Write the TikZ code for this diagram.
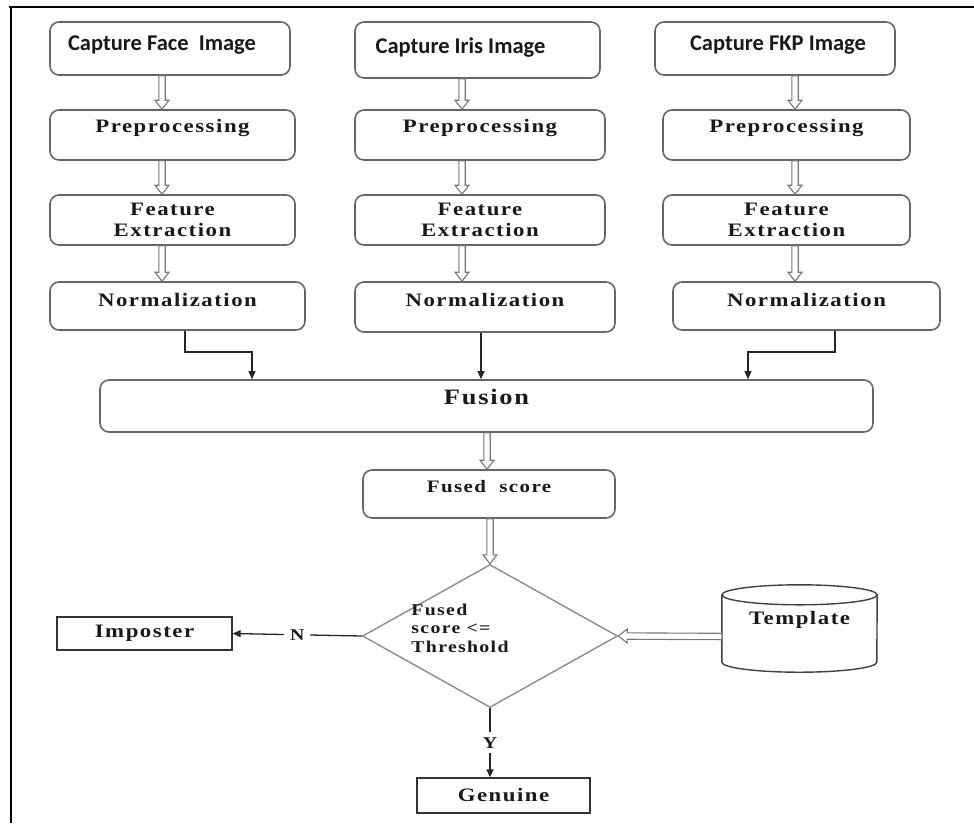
\documentclass[tikz,border=0pt]{standalone}
\usepackage{fontspec}
\setmainfont{Liberation Serif}
\newfontfamily\capfont{Carlito}
\newfontfamily\spfont{Liberation Serif}[LetterSpace=8,FakeStretch=1.2]
\usetikzlibrary{shapes.geometric,arrows.meta,calc}
\definecolor{boxgray}{HTML}{666666}
\definecolor{arrgray}{HTML}{777777}
\definecolor{diagray}{HTML}{8C8C8C}
\tikzset{
  rbox/.style={draw=boxgray, line width=1.6pt, rounded corners=9pt, inner sep=0pt},
  sbox/.style={draw=black!80, line width=1.3pt, inner sep=0pt},
  txt/.style={font={\spfont\bfseries\fontsize{19}{21}\selectfont}, text=black!90, align=center, inner sep=0pt},
  captxt/.style={font={\capfont\bfseries\fontsize{22.5}{26}\selectfont}, text=black!90, inner sep=0pt},
  smalltxt/.style={font={\spfont\bfseries\fontsize{16.5}{18.5}\selectfont}, text=black!90, inner sep=0pt},
  conn/.style={draw=black!85, line width=1.3pt, -{Triangle[length=8pt,width=7pt]}},
  harrow/.style={draw=arrgray, line width=1.1pt, fill=white, to path={
    let \p1=(\tikztostart), \p2=(\tikztotarget),
        \n1={veclen(\x2-\x1,\y2-\y1)}, \n2={atan2(\y2-\y1,\x2-\x1)}, \n3={\n1-9pt} in
    {[shift={(\p1)}, rotate=\n2]
      (0pt,3.2pt) -- (\n3,3.2pt) -- (\n3,7pt) -- (\n1,0pt)
      -- (\n3,-7pt) -- (\n3,-3.2pt) -- (0pt,-3.2pt) -- cycle}
  }}
}
\begin{document}
\begin{tikzpicture}[x=1pt,y=-1pt]
\useasboundingbox (0,0) rectangle (974,823);
% frame lines
\draw[line width=2.6pt] (9,7) -- (974,7);
\draw[line width=2.6pt] (11,6) -- (11,823);

% column 1
\node[rbox, minimum width=240, minimum height=53,
  label={[captxt, xshift=-8pt, yshift=3.5pt]center:Capture Face\ \ Image}] (cap1) at (170,48.5) {};
\node[rbox, minimum width=245, minimum height=50,
  label={[txt, yshift=7pt]center:Preprocessing}] (pre1) at (172.5,135) {};
\node[rbox, minimum width=245, minimum height=50,
  label={[txt, yshift=0pt]center:{Feature\\Extraction}}] (fe1) at (172.5,220) {};
\node[rbox, minimum width=255, minimum height=48,
  label={[txt, yshift=6pt]center:Normalization}] (nor1) at (177.5,306) {};

% column 2
\node[rbox, minimum width=245, minimum height=56,
  label={[captxt, xshift=-17pt, yshift=2pt]center:Capture Iris Image}] (cap2) at (477.5,50) {};
\node[rbox, minimum width=250, minimum height=50,
  label={[txt, yshift=7pt]center:Preprocessing}] (pre2) at (480,135) {};
\node[rbox, minimum width=250, minimum height=50,
  label={[txt, yshift=0pt]center:{Feature\\Extraction}}] (fe2) at (480,220) {};
\node[rbox, minimum width=260, minimum height=50,
  label={[txt, yshift=7pt]center:Normalization}] (nor2) at (485,307) {};

% column 3
\node[rbox, minimum width=240, minimum height=53,
  label={[captxt, xshift=3pt, yshift=3.5pt]center:Capture FKP Image}] (cap3) at (775,48.5) {};
\node[rbox, minimum width=247, minimum height=50,
  label={[txt, yshift=7pt]center:Preprocessing}] (pre3) at (786.5,135) {};
\node[rbox, minimum width=247, minimum height=50,
  label={[txt, yshift=0pt]center:{Feature\\Extraction}}] (fe3) at (786.5,220) {};
\node[rbox, minimum width=267, minimum height=48,
  label={[txt, yshift=6pt]center:Normalization}] (nor3) at (806.5,306) {};

% fusion and below
\node[rbox, minimum width=773, minimum height=52,
  label={[txt, font={\spfont\bfseries\fontsize{22}{24}\selectfont}, yshift=9pt]center:Fusion}] (fusion) at (486.5,406) {};
\node[rbox, minimum width=252, minimum height=48,
  label={[txt, font={\spfont\bfseries\fontsize{17.5}{20}\selectfont}, yshift=7pt]center:Fused\ \ score}] (fused) at (489,494) {};
\node[diamond, draw=diagray, line width=1.4pt, minimum width=255, minimum height=143, inner sep=0pt,
  label={[smalltxt, align=left, xshift=-30pt, yshift=8pt]center:{Fused\\score <=\\Threshold}}] (dia) at (490,636) {};
\node[sbox, txt, minimum width=175, minimum height=33] (imp) at (144.5,633.5) {Imposter};
\node[sbox, txt, minimum width=173, minimum height=35] (gen) at (503.5,795.5) {Genuine};
\node[minimum width=155, minimum height=87, inner sep=0pt,
  label={[txt, yshift=8.5pt]center:Template}] (tmpl) at (799.5,628.5) {};
\draw[draw=black!75, line width=1.4pt]
  ([yshift=-10pt]tmpl.north west) -- ([yshift=10pt]tmpl.south west)
  arc[start angle=180, end angle=360, x radius=77.5pt, y radius=10pt]
  -- ([yshift=-10pt]tmpl.north east);
\draw[draw=black!75, line width=1.4pt] ([yshift=-10pt]tmpl.north) ellipse [x radius=77.5pt, y radius=10pt];

% hollow arrows in columns
\coordinate (x1) at (162,0);
\coordinate (x2) at (462,0);
\coordinate (x3) at (795,0);
\foreach \c/\a/\b in {x1/cap1/pre1, x1/pre1/fe1, x1/fe1/nor1,
                      x2/cap2/pre2, x2/pre2/fe2, x2/fe2/nor2,
                      x3/cap3/pre3, x3/pre3/fe3, x3/fe3/nor3}
  \draw[harrow] (\a.south -| \c) to (\b.north -| \c);
\coordinate (x4) at (487,0);
\coordinate (x5) at (490,0);
\draw[harrow] (fusion.south -| x4) to (fused.north -| x4);
\draw[harrow] (fused.south -| x5) to (dia.north);
\draw[harrow] ([yshift=-8pt]tmpl.west) to (dia.east);

% connectors to fusion
\coordinate (k1) at (185,352);
\coordinate (f1) at (252,352);
\coordinate (k2) at (481,352);
\coordinate (k3) at (835,352);
\coordinate (f3) at (748,352);
\draw[conn] (nor1.south -| k1) -- (k1) -- (f1) -- (fusion.north -| f1);
\draw[conn] (nor2.south -| k2) -- (fusion.north -| k2);
\draw[conn] (nor3.south -| k3) -- (k3) -- (f3) -- (fusion.north -| f3);

% decision outputs
\draw[conn] (dia.west) -- (imp.east) node[midway, fill=white, smalltxt, inner sep=6pt] (nlab) {N};
\draw[conn] (dia.south) -- (gen.north -| dia.south) node[midway, fill=white, smalltxt, inner sep=5pt] (ylab) {Y};
\end{tikzpicture}
\end{document}
